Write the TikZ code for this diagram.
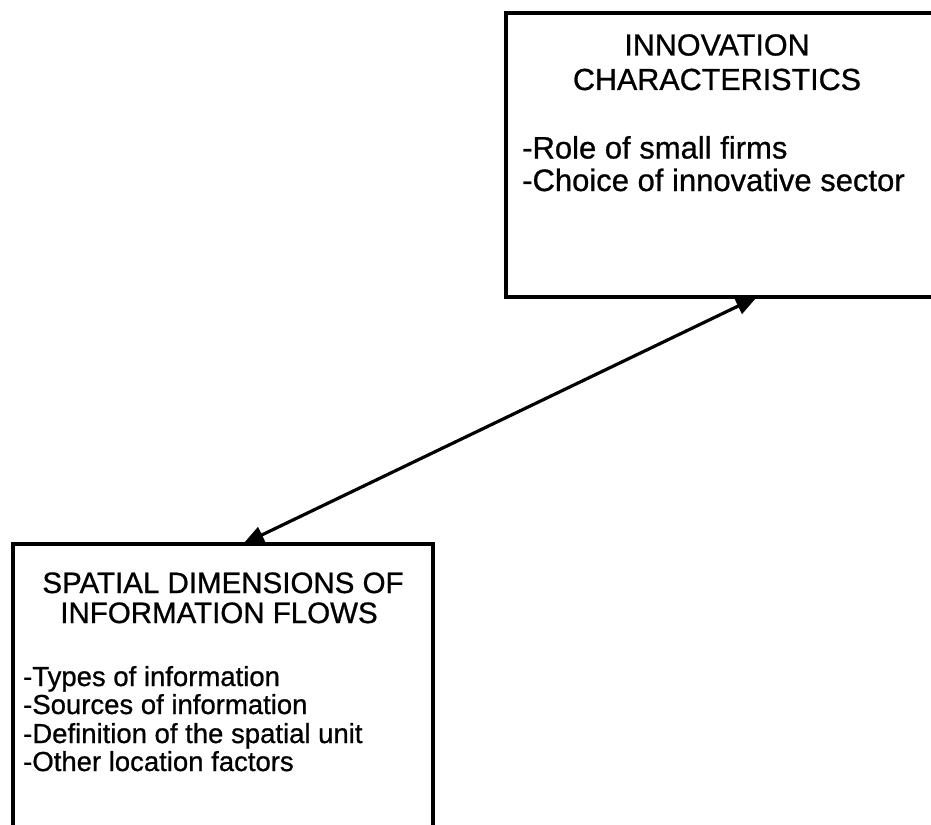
\documentclass[tikz,border=0pt]{standalone}
\usepackage{fontspec}
\setmainfont[FakeBold=0.8]{Liberation Sans}
\usetikzlibrary{arrows.meta,calc}

\tikzset{
  box/.style={draw, line width=3.2pt, rectangle, inner sep=0pt, outer sep=0pt},
  headline/.style={anchor=base, inner sep=0pt},
  itemline/.style={anchor=base west, inner sep=0pt},
  link/.style={line width=3.2pt, {Triangle[length=21pt,width=17pt]}-{Triangle[length=21pt,width=17pt]}}
}

\begin{document}
\begin{tikzpicture}[x=1pt, y=-1pt]
  % page frame
  \useasboundingbox (0,0) rectangle (931,824);

  % boxes (both run past the page edge)
  \node[box, minimum width=428pt, minimum height=284pt] (innov) at (720,155) {};
  \node[box, minimum width=420pt, minimum height=290pt] (spat) at (223,689) {};

  % upper box text
  \node[headline, font=\fontsize{30.5}{33}\selectfont] (t1) at (717,55.5) {INNOVATION};
  \node[headline, font=\fontsize{30.5}{33}\selectfont] (t2) at (717,90) {CHARACTERISTICS};
  \node[itemline, font=\fontsize{31}{32}\selectfont] (r1) at (522,158.5) {-Role of small firms};
  \node[itemline, font=\fontsize{31}{32}\selectfont] (r2) at (522,191) {-Choice of innovative sector};

  % lower box text
  \node[headline, font=\fontsize{29.5}{30}\selectfont] (s1) at (223,593) {SPATIAL DIMENSIONS OF};
  \node[headline, font=\fontsize{29.5}{30}\selectfont] (s2) at (219,623) {INFORMATION FLOWS};
  \node[itemline, font=\fontsize{27.5}{28}\selectfont] (l1) at (23,686) {-Types of information};
  \node[itemline, font=\fontsize{27.5}{28}\selectfont] (l2) at (23,714) {-Sources of information};
  \node[itemline, font=\fontsize{27.5}{28}\selectfont] (l3) at (23,743) {-Definition of the spatial unit};
  \node[itemline, font=\fontsize{27.5}{28}\selectfont] (l4) at (23,771) {-Other location factors};

  % two-way link between the boxes
  \coordinate (pa) at ([xshift=230pt]spat.north west);
  \coordinate (pb) at ([xshift=251pt]innov.south west);
  \draw[link] (pa) -- (pb);
\end{tikzpicture}
\end{document}
